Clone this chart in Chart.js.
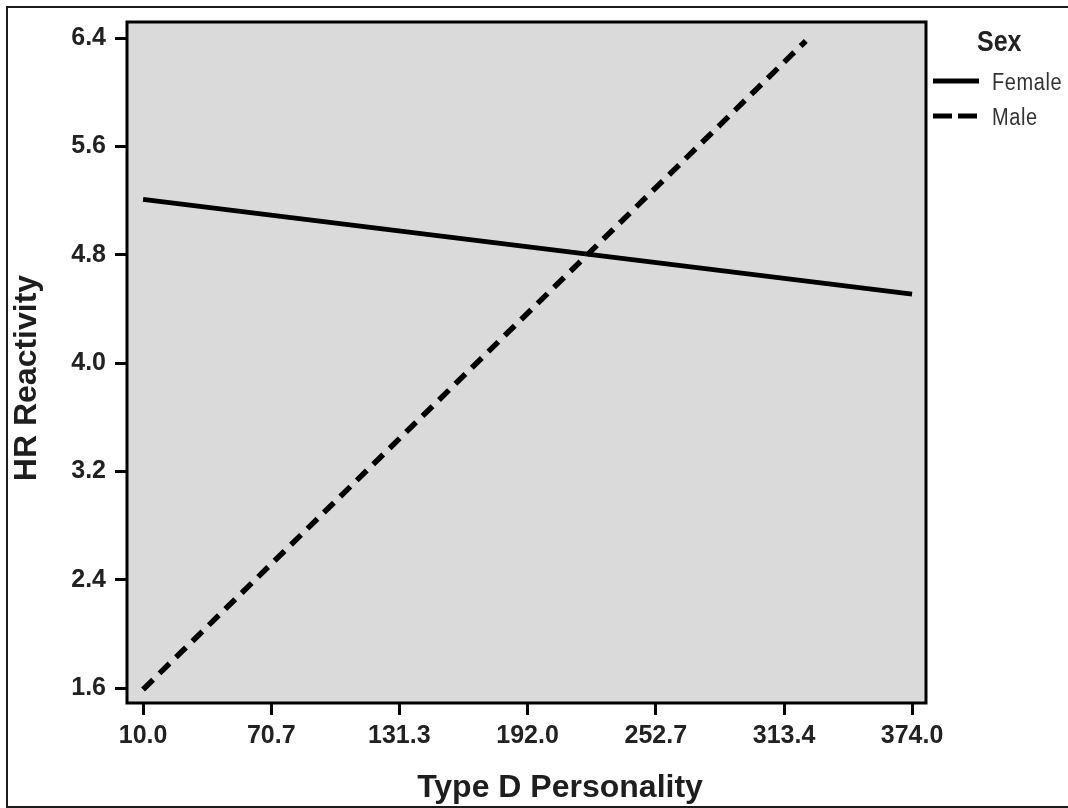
<!DOCTYPE html>
<html>
<head>
<meta charset="utf-8">
<script src="https://cdn.jsdelivr.net/npm/chart.js@4"></script>
<style>
  body { margin: 0; background: #fff; font-family: "Liberation Sans", Arial, sans-serif; }
  #wrap { position: relative; width: 1068px; height: 808px; overflow: hidden; }
  #frame { position: absolute; left: 6px; top: 6px; width: 1070px; height: 798px; border: 2px solid #1a1a1a; }
  .axis-title { position: absolute; font-weight: bold; font-size: 32px; line-height: 32px; color: #1e1e1e; white-space: nowrap; }
  #x-title { left: 560px; top: 770px; transform: translateX(-50%); }
  #y-title { left: 25px; top: 378px; transform: translate(-50%, -50%) rotate(-90deg); }
  #legend-title { position: absolute; left: 977px; top: 25px; font-weight: bold; font-size: 25px; line-height: 28px; color: #222; transform: scaleY(1.15); transform-origin: left top; }
  .legend-line { position: absolute; left: 933px; }
  .legend-text { position: absolute; left: 992px; font-size: 20px; line-height: 22px; color: #333; letter-spacing: 0.6px; transform: scaleY(1.15); transform-origin: left top; }
</style>
</head>
<body>
<div id="wrap">
  <canvas id="hrChart" width="1068" height="808"></canvas>
  <div id="frame"></div>
  <div class="axis-title" id="x-title">Type D Personality</div>
  <div class="axis-title" id="y-title">HR Reactivity</div>
  <div id="legend-title">Sex</div>
  <svg class="legend-line" style="top:78px" width="46" height="6"><line x1="0" y1="3" x2="46" y2="3" stroke="#000" stroke-width="5"/></svg>
  <div class="legend-text" style="top:69px">Female</div>
  <svg class="legend-line" style="top:113px" width="46" height="6"><line x1="0" y1="3" x2="46" y2="3" stroke="#000" stroke-width="5" stroke-dasharray="19 6"/></svg>
  <div class="legend-text" style="top:104px">Male</div>
</div>
<script>
// Values
const femaleX = [10, 374];
const femaleY = [5.21, 4.51];
const maleX = [10, 323.7];
const maleY = [1.59, 6.38];

// Tick values shown on each axis
const xTicks = [10.0, 70.7, 131.3, 192.0, 252.7, 313.4, 374.0];
const yTicks = [1.6, 2.4, 3.2, 4.0, 4.8, 5.6, 6.4];

const toPoints = (xs, ys) => xs.map((x, i) => ({ x: x, y: ys[i] }));

// Grey plot background plus the thick black box around it
const plotBox = {
    id: 'plotBox',
    beforeDraw(chart) {
        const { ctx, chartArea: a } = chart;
        ctx.save();
        ctx.fillStyle = '#dadada';
        ctx.fillRect(a.left, a.top, a.right - a.left, a.bottom - a.top);
        ctx.restore();
    },
    afterDraw(chart) {
        const { ctx, chartArea: a } = chart;
        ctx.save();
        ctx.strokeStyle = '#000';
        ctx.lineWidth = 3;
        ctx.strokeRect(a.left, a.top, a.right - a.left, a.bottom - a.top);
        ctx.restore();
    }
};

const tickFont = { family: '"Liberation Sans", Arial, sans-serif', size: 25, weight: 'bold' };
// same font, but a tight line height so the top label doesn't push the plot down
const yTickFont = Object.assign({}, tickFont, { lineHeight: 1 });

new Chart(document.getElementById('hrChart').getContext('2d'), {
    type: 'line',
    data: {
        datasets: [
            {
                label: 'Female',
                data: toPoints(femaleX, femaleY),
                borderColor: '#000',
                borderWidth: 5,
                pointRadius: 0,
                fill: false
            },
            {
                label: 'Male',
                data: toPoints(maleX, maleY),
                borderColor: '#000',
                borderWidth: 5.5,
                borderDash: [14, 9],
                pointRadius: 0,
                fill: false
            }
        ]
    },
    options: {
        responsive: false,
        animation: false,
        layout: { padding: { top: 22, right: 142, bottom: 0, left: 0 } },
        plugins: { legend: { display: false }, tooltip: { enabled: false } },
        scales: {
            x: {
                type: 'linear',
                min: 2.4,
                max: 380.6,
                afterBuildTicks: axis => { axis.ticks = xTicks.map(v => ({ value: v })); },
                afterFit: axis => { axis.height = 105; },
                grid: { drawOnChartArea: false, tickLength: 12, tickColor: '#000', tickWidth: 3 },
                border: { display: false },
                ticks: { color: '#222', font: tickFont, padding: 6, maxRotation: 0, callback: v => v.toFixed(1) },
                title: { display: false }
            },
            y: {
                min: 1.49,
                max: 6.52,
                afterBuildTicks: axis => { axis.ticks = yTicks.map(v => ({ value: v })); },
                afterFit: axis => { axis.width = 127; },
                grid: { drawOnChartArea: false, tickLength: 12, tickColor: '#000', tickWidth: 3 },
                border: { display: false },
                ticks: { color: '#222', font: yTickFont, padding: 9, callback: v => v.toFixed(1) },
                title: { display: false }
            }
        }
    },
    plugins: [plotBox]
});
</script>
</body>
</html>
